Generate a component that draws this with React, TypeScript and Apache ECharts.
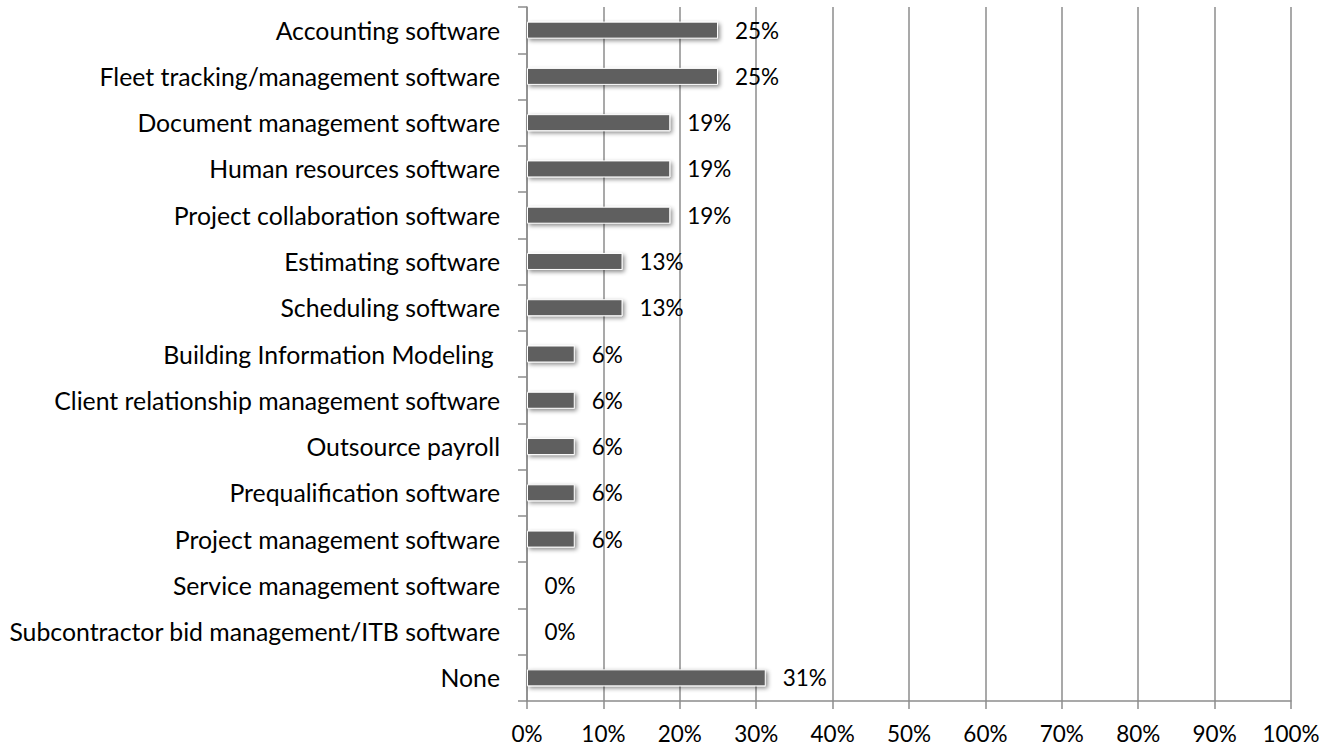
import React, { useEffect, useRef } from "react";
import * as echarts from "echarts";

const categories = [
  "Accounting software",
  "Fleet tracking/management software",
  "Document management software",
  "Human resources software",
  "Project collaboration software",
  "Estimating software",
  "Scheduling software",
  "Building Information Modeling ",
  "Client relationship management software",
  "Outsource payroll",
  "Prequalification software",
  "Project management software",
  "Service management software",
  "Subcontractor bid management/ITB software",
  "None",
];
const values = [25, 25, 18.75, 18.75, 18.75, 12.5, 12.5, 6.25, 6.25, 6.25, 6.25, 6.25, 0, 0, 31.25];
const xTicks = [0, 10, 20, 30, 40, 50, 60, 70, 80, 90, 100];

const FONT = "Lato";

export default function App() {
  const ref = useRef<HTMLDivElement>(null);
  useEffect(() => {
    if (!ref.current) return;
    const chart = echarts.init(ref.current, null, { renderer: "svg" });
    chart.setOption({
      animation: false,
      textStyle: { fontFamily: FONT },
      grid: { left: 527, right: 46, top: 7, bottom: 47, containLabel: false },
      xAxis: {
        type: "value",
        min: xTicks[0],
        max: xTicks[xTicks.length - 1],
        interval: 10,
        axisLine: { show: true, lineStyle: { color: "#8c8c8c", width: 1.5 } },
        axisTick: { show: true, length: 8, lineStyle: { color: "#8c8c8c", width: 1.5 } },
        splitLine: { show: true, lineStyle: { color: "#8c8c8c", width: 1.5 } },
        axisLabel: {
          margin: 21,
          fontSize: 22.5,
          color: "#000",
          fontFamily: FONT,
          formatter: (v: number) => `${v}%`,
        },
      },
      yAxis: {
        type: "category",
        inverse: true,
        data: categories,
        axisLine: { show: true, lineStyle: { color: "#8c8c8c", width: 1.5 } },
        axisTick: { show: true, length: 9, alignWithLabel: false, lineStyle: { color: "#8c8c8c", width: 1.5 } },
        axisLabel: { margin: 27, fontSize: 24.8, color: "#000", fontFamily: FONT },
      },
      series: [
        {
          type: "bar",
          data: values,
          barWidth: 17,
          itemStyle: {
            color: "#5f5f5f",
            borderColor: "#ffffff",
            borderWidth: 1,
            shadowColor: "rgba(0,0,0,0.45)",
            shadowBlur: 4,
            shadowOffsetX: 2,
            shadowOffsetY: 2,
          },
          label: {
            show: true,
            position: "right",
            distance: 17,
            fontSize: 22.5,
            color: "#000",
            fontFamily: FONT,
            formatter: (p: any) => `${Math.round(p.value)}%`,
          },
        },
      ],
    });
    return () => chart.dispose();
  }, []);
  return <div ref={ref} style={{ width: 1337, height: 748, position: "absolute", left: 0, top: 0 }} />;
}
